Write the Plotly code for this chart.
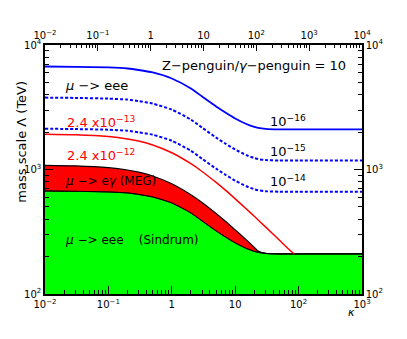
import plotly.graph_objects as go

# kappa values shared by the mu -> eee curves and the MEG bound
kappa = [0.01, 0.03, 0.1, 0.2, 0.3, 0.5, 1, 2, 3, 5, 7, 10, 15, 20, 23, 30, 50, 100, 1000]

# mass scale Lambda (TeV)
sindrum = [672, 668, 660, 648, 630, 601, 538, 447, 386, 321, 287, 257, 232, 220, 216, 212, 210, 210, 210]
meg_bound = [1081, 1070, 1035, 991, 952, 887, 768, 627, 543, 443, 384, 327, 272, 237, 221, 212, 210, 210, 210]
eee_1e14 = [2125, 2113, 2087, 2048, 1992, 1902, 1702, 1415, 1220, 1015, 908, 813, 734, 694, 682, 669, 663, 663, 663]
eee_1e15 = [3779, 3758, 3711, 3642, 3542, 3382, 3027, 2516, 2169, 1805, 1615, 1447, 1305, 1235, 1212, 1191, 1180, 1180, 1180]
eee_1e16 = [6720, 6683, 6600, 6476, 6299, 6015, 5383, 4474, 3858, 3209, 2873, 2572, 2321, 2196, 2156, 2117, 2098, 2098, 2098]

# future MEG sensitivity 2.4e-13 (red line, stops on the Sindrum plateau)
kappa_meg13 = [0.01, 0.03, 0.1, 0.2, 0.3, 0.5, 1, 2, 3, 5, 7, 10, 15, 20, 30, 50, 70, 85]
meg_2p4e13 = [1918, 1900, 1838, 1760, 1691, 1574, 1363, 1113, 964, 787, 682, 581, 482, 421, 346, 270, 229, 210]

floor = [100] * len(kappa)

bottom_ticks = [0.01, 0.1, 1, 10, 100, 1000]
bottom_text = ["10<sup>−2</sup>", "10<sup>−1</sup>", "1", "10", "10<sup>2</sup>", "10<sup>3</sup>"]
top_ticks = [0.01, 0.1, 1, 10, 100, 1000, 10000]
top_text = ["10<sup>−2</sup>", "10<sup>−1</sup>", "1", "10", "10<sup>2</sup>", "10<sup>3</sup>", "10<sup>4</sup>"]
y_ticks = [100, 1000, 10000]
y_text = ["10<sup>2</sup>", "10<sup>3</sup>", "10<sup>4</sup>"]

FONT = "DejaVu Sans"
SPL = dict(shape="spline", smoothing=0.6)

fig = go.Figure()

# green Sindrum region
fig.add_trace(go.Scatter(x=kappa, y=floor, mode="lines", line=dict(width=0), hoverinfo="skip"))
fig.add_trace(go.Scatter(x=kappa, y=sindrum, mode="lines", fill="tonexty", fillcolor="#00ff00",
                         line=dict(color="black", width=1, **SPL)))
# red MEG region
fig.add_trace(go.Scatter(x=kappa, y=meg_bound, mode="lines", fill="tonexty", fillcolor="#ff0000",
                         line=dict(color="black", width=1.2, **SPL)))
fig.add_trace(go.Scatter(x=kappa, y=sindrum, mode="lines", line=dict(color="black", width=1, **SPL)))

fig.add_trace(go.Scatter(x=kappa_meg13, y=meg_2p4e13, mode="lines", line=dict(color="#ff0000", width=1.5, **SPL)))

fig.add_trace(go.Scatter(x=kappa, y=eee_1e14, mode="lines", line=dict(color="#0000ff", width=2, dash="3px,2px", **SPL)))
fig.add_trace(go.Scatter(x=kappa, y=eee_1e15, mode="lines", line=dict(color="#0000ff", width=2, dash="3px,2px", **SPL)))
fig.add_trace(go.Scatter(x=kappa, y=eee_1e16, mode="lines", line=dict(color="#0000ff", width=1.8, **SPL)))

# invisible trace so the top / right axes are drawn
fig.add_trace(go.Scatter(x=[1], y=[1000], xaxis="x2", yaxis="y2", mode="markers",
                         marker=dict(opacity=0), hoverinfo="skip"))

def minor_vals(lo, hi):
    vals = []
    for e in range(lo, hi):
        for m in range(2, 10):
            vals.append(m * 10 ** e)
    return vals

axis_common = dict(type="log", showline=True, linecolor="black", linewidth=1.5, ticks="inside",
                   tickcolor="black", tickwidth=1, showgrid=False, zeroline=False, automargin=False,
                   tickfont=dict(family=FONT, size=10, color="black"), tickmode="array")

fig.update_layout(
    width=407, height=339, autosize=False,
    margin=dict(l=45, r=45, t=45, b=45),
    paper_bgcolor="white", plot_bgcolor="white",
    showlegend=False,
    xaxis=dict(axis_common, range=[-2, 3], tickvals=bottom_ticks, ticktext=bottom_text, ticklen=8,
               minor=dict(ticks="inside", ticklen=4, tickcolor="black", tickvals=minor_vals(-2, 3))),
    xaxis2=dict(axis_common, range=[-2, 4], tickvals=top_ticks, ticktext=top_text, ticklen=6,
                overlaying="x", side="top", anchor="y2",
                minor=dict(ticks="inside", ticklen=3, tickcolor="black", tickvals=minor_vals(-2, 4))),
    yaxis=dict(axis_common, range=[2, 4], tickvals=y_ticks, ticktext=y_text, ticklen=8,
               minor=dict(ticks="inside", ticklen=4, tickcolor="black", tickvals=minor_vals(2, 4))),
    yaxis2=dict(axis_common, range=[2, 4], tickvals=y_ticks, ticktext=y_text, ticklen=8,
                overlaying="y", side="right", anchor="x2",
                minor=dict(ticks="inside", ticklen=4, tickcolor="black", tickvals=minor_vals(2, 4))),
)

def label(x, y, text, color="black", size=13, xanchor="left"):
    fig.add_annotation(x=x, y=y, xref="x", yref="y", text=text, showarrow=False,
                       xanchor=xanchor, yanchor="middle",
                       font=dict(family=FONT, size=size, color=color))

# positions in log10 units of the data axes
label(-0.186, 3.839, "Z−penguin/<i>γ</i>−penguin = 10")
label(-1.716, 3.671, "<i>μ</i> −> eee")
label(-1.685, 3.382, "2.4 x10<sup>−13</sup>", color="#ff0000")
label(-1.685, 3.116, "2.4 x10<sup>−12</sup>", color="#ff0000")
label(-1.716, 2.908, "<i>μ</i> −> e<i>γ</i> (MEG)", size=12)
label(-1.716, 2.434, "<i>μ</i> −> eee    (Sindrum)", size=12)
label(1.517, 3.39, "10<sup>−16</sup>")
label(1.517, 3.149, "10<sup>−15</sup>")
label(1.517, 2.908, "10<sup>−14</sup>")

fig.add_annotation(x=-0.104, y=0.863, xref="paper", yref="paper", text="mass scale Λ (TeV)",
                   textangle=-90, showarrow=False, font=dict(family=FONT, size=13, color="black"))
fig.add_annotation(x=0.984, y=-0.108, xref="paper", yref="paper", text="<i>κ</i>",
                   showarrow=False, font=dict(family=FONT, size=11, color="black"))

# drop the default page margin so the figure sits at the window's corner
fig.write_html("out.html", config={"displayModeBar": False},
               post_script="document.body.style.margin='0';")
